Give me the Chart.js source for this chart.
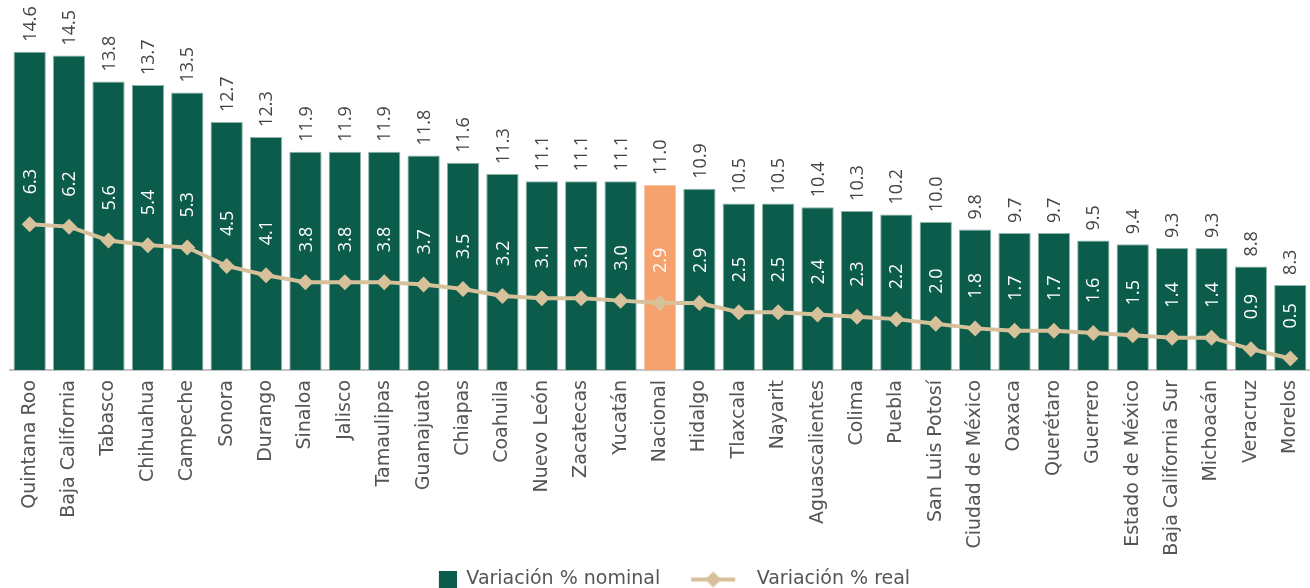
<!DOCTYPE html>
<html lang="es">
<head>
  <meta charset="UTF-8" />
  <title>Variación % nominal y real por entidad</title>
  <script src="https://cdn.jsdelivr.net/npm/chart.js@4.4.1/dist/chart.umd.min.js"></script>
  <style>
    html, body { margin: 0; padding: 0; background: #fff; }
    #wrap { width: 1310px; height: 588px; position: relative; }
  </style>
</head>
<body>
  <div id="wrap"><canvas id="myChart"></canvas></div>

  <script>
    const entidades = [
      'Quintana Roo', 'Baja California', 'Tabasco', 'Chihuahua', 'Campeche', 'Sonora',
      'Durango', 'Sinaloa', 'Jalisco', 'Tamaulipas', 'Guanajuato', 'Chiapas', 'Coahuila',
      'Nuevo León', 'Zacatecas', 'Yucatán', 'Nacional', 'Hidalgo', 'Tlaxcala', 'Nayarit',
      'Aguascalientes', 'Colima', 'Puebla', 'San Luis Potosí', 'Ciudad de México', 'Oaxaca',
      'Querétaro', 'Guerrero', 'Estado de México', 'Baja California Sur', 'Michoacán',
      'Veracruz', 'Morelos'
    ];
    const nominal = [
      14.6, 14.5, 13.8, 13.7, 13.5, 12.7, 12.3, 11.9, 11.9, 11.9, 11.8, 11.6, 11.3,
      11.1, 11.1, 11.1, 11.0, 10.9, 10.5, 10.5, 10.4, 10.3, 10.2, 10.0, 9.8, 9.7,
      9.7, 9.5, 9.4, 9.3, 9.3, 8.8, 8.3
    ];
    const real = [
      6.3, 6.2, 5.6, 5.4, 5.3, 4.5, 4.1, 3.8, 3.8, 3.8, 3.7, 3.5, 3.2,
      3.1, 3.1, 3.0, 2.9, 2.9, 2.5, 2.5, 2.4, 2.3, 2.2, 2.0, 1.8, 1.7,
      1.7, 1.6, 1.5, 1.4, 1.4, 0.9, 0.5
    ];
    const destacado = 'Nacional';

    const VERDE = '#0b5c4b';
    const NARANJA = '#f6a26f';
    const BEIGE = '#d6c19b';
    const FONT = '"DejaVu Sans", sans-serif';
    const FONT_VAL = '"Open Sans", sans-serif';
    const AREA_BOTTOM = 370;
    const PAD_BOTTOM = -11;
    const LEGEND_SHIFT = -17;

    // iconos de la leyenda (cuadro y linea con rombo)
    function makeIcon(draw) {
      const c = document.createElement('canvas');
      c.width = 81; c.height = 18;
      draw(c.getContext('2d'));
      return c;
    }
    const iconBar = makeIcon(g => {
      g.fillStyle = VERDE;
      g.fillRect(63, 0, 18, 18);
    });
    const iconLine = makeIcon(g => {
      g.strokeStyle = BEIGE;
      g.lineWidth = 4;
      g.beginPath(); g.moveTo(25, 9); g.lineTo(69, 9); g.stroke();
      g.fillStyle = BEIGE;
      g.beginPath();
      g.moveTo(47, 1); g.lineTo(55, 9); g.lineTo(47, 17); g.lineTo(39, 9);
      g.closePath(); g.fill();
    });
    const legendIcons = [iconBar, iconLine];

    function vText(ctx, txt, x, y, color) {
      ctx.save();
      ctx.translate(x, y);
      ctx.rotate(-Math.PI / 2);
      ctx.fillStyle = color;
      ctx.fillText(txt, 0, 0);
      ctx.restore();
    }

    const valueLabels = {
      id: 'valueLabels',
      afterLayout(chart) {
        // la leyenda original no está centrada del todo
        chart.legend.left += LEGEND_SHIFT;
        chart.legend.right += LEGEND_SHIFT;
      },
      afterDatasetsDraw(chart) {
        const ctx = chart.ctx;
        const bars = chart.getDatasetMeta(0).data;
        const pts = chart.getDatasetMeta(1).data;
        ctx.save();
        ctx.font = '18px ' + FONT_VAL;
        ctx.textAlign = 'left';
        ctx.textBaseline = 'middle';
        bars.forEach((b, i) => vText(ctx, nominal[i].toFixed(1), b.x + 1, b.y - 10, '#444'));
        pts.forEach((p, i) => vText(ctx, real[i].toFixed(1), p.x + 1, p.y - 30, '#ffffff'));
        ctx.restore();
      }
    };

    const ctx = document.getElementById('myChart').getContext('2d');
    new Chart(ctx, {
      type: 'bar',
      data: {
        labels: entidades,
        datasets: [
          {
            type: 'bar',
            label: 'Variación % nominal',
            data: nominal,
            yAxisID: 'y',
            order: 2,
            backgroundColor: entidades.map(e => e === destacado ? NARANJA : VERDE),
            borderColor: entidades.map(e => e === destacado ? '#f9c3a3' : '#8db3a9'),
            borderWidth: 1,
            borderSkipped: 'bottom',
            barPercentage: 0.82,
            categoryPercentage: 1
          },
          {
            type: 'line',
            label: 'Variación % real',
            data: real,
            yAxisID: 'y2',
            order: 1,
            borderColor: BEIGE,
            backgroundColor: BEIGE,
            borderWidth: 4,
            pointStyle: 'rectRot',
            pointRadius: 8,
            pointHoverRadius: 8,
            pointBackgroundColor: BEIGE,
            pointBorderWidth: 0,
            tension: 0,
            fill: false
          }
        ]
      },
      options: {
        responsive: true,
        maintainAspectRatio: false,
        animation: false,
        layout: { autoPadding: false, padding: { left: 10, right: 0, top: 0, bottom: PAD_BOTTOM } },
        plugins: {
          tooltip: { enabled: false },
          legend: {
            display: true,
            position: 'bottom',
            labels: {
              usePointStyle: true,
              pointStyleWidth: 81,
              boxHeight: 18,
              padding: 6,
              color: '#555',
              font: { family: FONT, size: 19 },
              generateLabels: (chart) => chart.data.datasets.map((ds, i) => ({
                text: ds.label,
                pointStyle: legendIcons[i],
                fillStyle: 'transparent',
                strokeStyle: 'transparent',
                lineWidth: 0,
                fontColor: '#555',
                hidden: false,
                datasetIndex: i
              }))
            }
          }
        },
        scales: {
          x: {
            grid: { display: false, drawTicks: false },
            border: { display: true, color: '#c4c4c4', width: 2 },
            ticks: {
              autoSkip: false,
              minRotation: 90,
              maxRotation: 90,
              padding: 10,
              color: '#555',
              font: { family: FONT, size: 19 }
            },
            afterFit(scale) {
              const lg = scale.chart.legend ? scale.chart.legend.height : 31;
              scale.height = scale.chart.height - PAD_BOTTOM - AREA_BOTTOM - lg;
              scale.paddingLeft = 0;
              scale.paddingRight = 0;
            }
          },
          y: { display: false, min: 6, max: 16 },
          y2: { display: false, min: 0, max: 16, position: 'right' }
        }
      },
      plugins: [valueLabels]
    });
  </script>
</body>
</html>
